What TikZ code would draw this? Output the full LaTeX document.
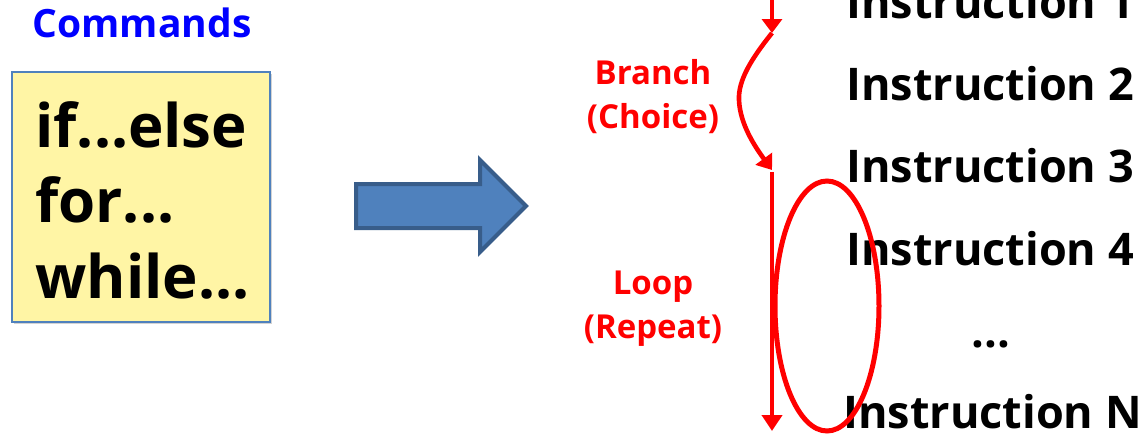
\documentclass[tikz,border=0pt]{standalone}
\usepackage{fontspec}
\setmainfont{Open Sans}
\usetikzlibrary{arrows.meta,positioning,shapes.arrows,shadows}
\definecolor{cmdblue}{HTML}{0000FF}
\definecolor{flowred}{HTML}{FF0000}
\definecolor{notefill}{HTML}{FFF5A5}
\definecolor{noteline}{HTML}{4F81BD}
\definecolor{bigarrow}{HTML}{4F81BD}
\definecolor{bigarrowline}{HTML}{385D8A}

\begin{document}
\begin{tikzpicture}[
  x=0.5pt, y=-0.5pt,
  note/.style={
    rectangle, draw=noteline, line width=0.6pt, fill=notefill,
    minimum width=129pt, minimum height=125pt, inner sep=0pt,
    drop shadow={opacity=0.35, shadow xshift=1pt, shadow yshift=-1.2pt}
  },
  keyword/.style={
    anchor=base west, inner sep=0pt, font=\fontsize{30}{37.5}\selectfont\bfseries
  },
  instr/.style={
    anchor=base west, inner sep=0pt, font=\fontsize{22.5}{28}\selectfont\bfseries
  },
  kind/.style={
    align=center, text=flowred, inner sep=0pt,
    font=\fontsize{16.5}{22}\selectfont\bfseries
  },
  flow/.style={-{Triangle[length=7pt, width=10pt]}, draw=flowred, line width=2.3pt},
]
  \useasboundingbox (0,0) rectangle (1142,434);

  % Command box
  \node[text=cmdblue, font=\fontsize{19.5}{24}\selectfont\bfseries] (cmds) at (142,23) {Commands};
  \node[note] (box) at (141,197) {};
  \node[keyword] (kif) at (35,147) {if...else};
  \node[keyword] (kfor) at (35,222) {for...};
  \node[keyword] (kwhile) at (35,298) {while...};

  % Block arrow
  \node[single arrow, draw=bigarrowline, line width=2pt, fill=bigarrow,
        minimum height=85pt, inner sep=0pt, inner ysep=10pt,
        single arrow head extend=12pt, single arrow head indent=0pt]
        (goto) at (430,206) {};

  % Instruction list
  \node[instr] (i1) at (846,18) {Instruction 1};
  \node[instr] (i2) at (846,100) {Instruction 2};
  \node[instr] (i3) at (846,182) {Instruction 3};
  \node[instr] (i4) at (846,265) {Instruction 4};
  \node[instr, anchor=base] (idots) at (991,347) {...};
  \node[instr] (iN) at (843,428) {Instruction N};

  % Labels
  \node[kind] (branch) at (653,97) {Branch\\(Choice)};
  \node[kind] (loop) at (653,309) {Loop\\(Repeat)};

  % Flow arrows
  \coordinate (top) at (772,-5);
  \coordinate (bA) at (772,33);
  \coordinate (bB) at (772,170);
  \coordinate (lA) at (772,172);
  \coordinate (lB) at (772,431);
  \draw[flow] (top) -- (bA);
  \draw[flow] (bA) .. controls (752,58) and (738,80) .. (739,100)
                  .. controls (740,125) and (756,148) .. (bB);
  \draw[flow, line width=2pt, -{Triangle[length=8pt, width=10pt]}] (lA) -- (lB);

  % Loop ellipse
  \draw[flowred, line width=2.5pt] (827,306) ellipse [x radius=52, y radius=125];
\end{tikzpicture}
\end{document}
